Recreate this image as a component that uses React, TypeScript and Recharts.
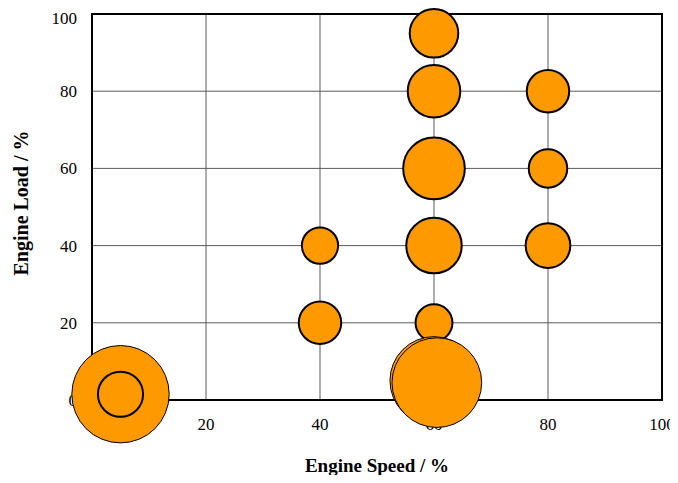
import React from 'react';
import {
    ScatterChart,
    Scatter,
    XAxis,
    YAxis,
    ZAxis,
    CartesianGrid,
    ReferenceArea
} from 'recharts';

// operating points on the grid (speed %, load %, relative weight)
const gridSpeed = [60, 60, 80, 60, 80, 40, 60, 80, 40, 60];
const gridLoad = [95, 80, 80, 60, 60, 40, 40, 40, 20, 20];
const gridWeight = [59, 69, 45, 95, 37, 33, 77, 50, 45, 34];

// large low-load points
const lowSpeed = [60, 60.5, 5];
const lowLoad = [5, 4.5, 1.5];
const lowWeight = [194, 201, 237];

// idle point drawn on top
const idleSpeed = [5];
const idleLoad = [1.5];
const idleWeight = [51];

const axisTicks = [0, 20, 40, 60, 80, 100];

const toRows = (xs: number[], ys: number[], zs: number[]) =>
    xs.map((x, i) => ({ speed: x, load: ys[i], weight: zs[i] }));

const gridRows = toRows(gridSpeed, gridLoad, gridWeight);
const lowRows = toRows(lowSpeed, lowLoad, lowWeight);
const idleRows = toRows(idleSpeed, idleLoad, idleWeight);

const FONT = '"Liberation Serif", "Times New Roman", serif';
const ORANGE = '#FF9900';
const W = 670;
const H = 467;
// plot box: x 84..654, y 6..392 (chart coords)
const X_AXIS_H = 72;
const Y_AXIS_W = 84;
const MARGIN = { top: 6, right: 16, bottom: 3, left: 0 };

// bubbles sit above the axes and their labels, so they get their own layer
const BubbleLayer = () => (
    <ScatterChart
        width={W}
        height={H}
        margin={{ top: MARGIN.top, right: MARGIN.right, bottom: MARGIN.bottom + X_AXIS_H, left: Y_AXIS_W }}
        style={{ position: 'absolute', left: 0, top: 0 }}
    >
        <XAxis type="number" dataKey="speed" domain={[0, 100]} hide />
        <YAxis type="number" dataKey="load" domain={[0, 100]} hide />
        <ZAxis type="number" dataKey="weight" domain={[0, 250]} range={[0, 7854]} />
        <Scatter data={gridRows} fill={ORANGE} stroke="#000" strokeWidth={2} isAnimationActive={false} />
        <Scatter data={lowRows} fill={ORANGE} stroke="#000" strokeWidth={1} isAnimationActive={false} />
        <Scatter data={idleRows} fill={ORANGE} stroke="#000" strokeWidth={2} isAnimationActive={false} />
    </ScatterChart>
);

export default function App() {
    return (
        <div style={{ position: 'relative', width: W, height: H, fontFamily: FONT }}>
            <style>{'body { overflow: hidden; } svg.recharts-surface { overflow: visible; }'}</style>
            <ScatterChart width={W} height={H} margin={MARGIN}>
                <CartesianGrid stroke="#5a5a5a" strokeWidth={1} />
                <ReferenceArea
                    x1={0}
                    x2={100}
                    y1={0}
                    y2={100}
                    fill="none"
                    fillOpacity={0}
                    stroke="#000"
                    strokeWidth={2}
                />
                <XAxis
                    type="number"
                    dataKey="speed"
                    domain={[0, 100]}
                    ticks={axisTicks}
                    tickLine={false}
                    tickSize={6}
                    tickMargin={12}
                    axisLine={{ stroke: '#000', strokeWidth: 2 }}
                    height={X_AXIS_H}
                    tick={{ fill: '#000', fontSize: 17, fontFamily: FONT }}
                    label={{
                        value: 'Engine Speed / %',
                        position: 'insideBottom',
                        offset: 0,
                        style: { fontWeight: 'bold', fontSize: 19, fill: '#000', fontFamily: FONT }
                    }}
                />
                <YAxis
                    type="number"
                    dataKey="load"
                    domain={[0, 100]}
                    ticks={axisTicks}
                    tickLine={false}
                    tickSize={6}
                    tickMargin={9}
                    axisLine={{ stroke: '#000', strokeWidth: 2 }}
                    width={Y_AXIS_W}
                    tick={{ fill: '#000', fontSize: 17, fontFamily: FONT }}
                    label={{
                        value: 'Engine Load / %',
                        angle: -90,
                        position: 'insideLeft',
                        offset: 13,
                        dy: -4,
                        style: { textAnchor: 'middle', fontWeight: 'bold', fontSize: 20, fill: '#000', fontFamily: FONT }
                    }}
                />
                {/* same points feed the axes here; they are drawn in the layer above */}
                <Scatter data={gridRows} shape={() => <g />} isAnimationActive={false} />
            </ScatterChart>
            <BubbleLayer />
        </div>
    );
}
